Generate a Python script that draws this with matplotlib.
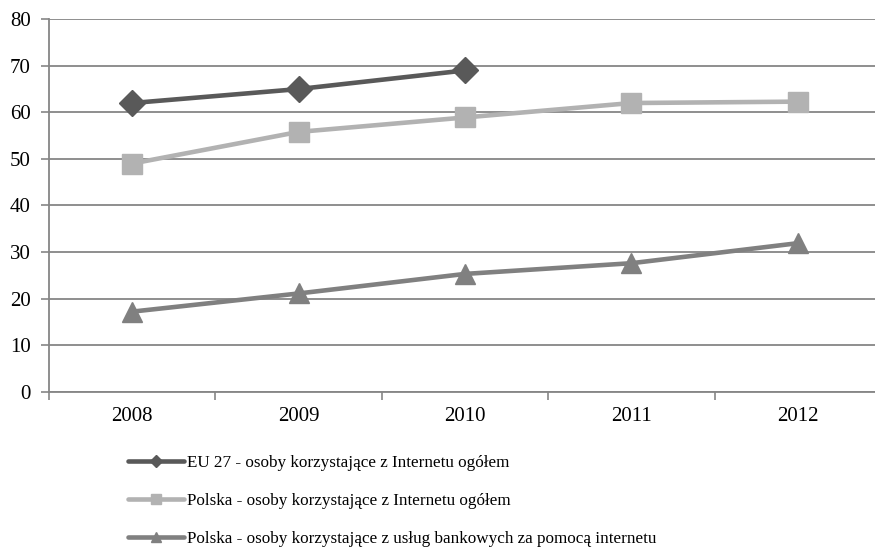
import matplotlib.pyplot as plt

# dane
years = ["2008", "2009", "2010", "2011", "2012"]
eu27_ogolem = [62, 65, 69]
polska_ogolem = [49, 55.8, 58.9, 62, 62.3]
polska_bank = [17.2, 21.1, 25.3, 27.6, 31.9]

labels = [
    "EU 27 - osoby korzystające z Internetu ogółem",
    "Polska - osoby korzystające z Internetu ogółem",
    "Polska - osoby korzystające z usług bankowych za pomocą internetu",
]

plt.rcParams["font.family"] = ["Liberation Serif", "DejaVu Serif"]
plt.rcParams["font.size"] = 15

fig = plt.figure(figsize=(8.75, 5.49), dpi=100)
ax = fig.add_axes([0.056, 0.2865, 0.951, 0.6785])

x = list(range(len(years)))
l1, = ax.plot(x[:len(eu27_ogolem)], eu27_ogolem, color="#595959", lw=3.3,
              marker="D", ms=13, label=labels[0], solid_capstyle="round")
l2, = ax.plot(x, polska_ogolem, color="#b2b2b2", lw=3.3,
              marker="s", ms=14, label=labels[1], solid_capstyle="round")
l3, = ax.plot(x, polska_bank, color="#808080", lw=3.3,
              marker="^", ms=15, label=labels[2], solid_capstyle="round")

ax.set_xlim(-0.5, 4.5)
ax.set_ylim(0, 80)
ax.set_yticks(range(0, 81, 10))
ax.set_xticks(x)
ax.set_xticklabels(years)
ax.set_xticks([i - 0.5 for i in range(6)], minor=True)
ax.tick_params(axis="x", which="major", length=0, pad=11)
ax.tick_params(axis="x", which="minor", length=6, color="#868686", width=1.2)
ax.tick_params(axis="y", length=6, color="#868686", width=1.2, pad=7)
ax.grid(axis="y", color="#868686", lw=1.3)
ax.set_axisbelow(True)
for s in ["top", "right"]:
    ax.spines[s].set_visible(False)
for s in ["left", "bottom"]:
    ax.spines[s].set_color("#868686")
    ax.spines[s].set_linewidth(1.3)

fig.legend(handles=[l1, l2, l3], loc="upper left", bbox_to_anchor=(0.139, 0.183),
           frameon=False, markerscale=0.5, handlelength=3.27, handletextpad=0.17,
           labelspacing=1.28, borderaxespad=0, fontsize=12.3)

fig.savefig("out.png", dpi=100)
